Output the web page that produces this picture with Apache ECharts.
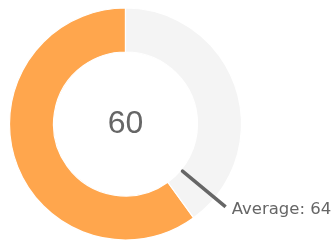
<!DOCTYPE html>
<html>
<head>
<meta charset="utf-8">
<script src="https://cdn.jsdelivr.net/npm/echarts@6/dist/echarts.min.js"></script>
<style>html,body{margin:0;padding:0;background:#fff}#c{width:336px;height:240px}</style>
</head>
<body>
<div id="c"></div>
<script>
var categories = ['Value', 'Remainder'];
var values = [60, 40];
var averageLabel = 'Average';
var averageValue = 64;

var chart = echarts.init(document.getElementById('c'), null, {renderer: 'canvas'});
var cx = 125.5, cy = 124;
chart.setOption({
  animation: false,
  polar: {center: [cx, cy], radius: 130},
  angleAxis: {type: 'value', min: 0, max: 100, startAngle: 90, clockwise: false, show: false},
  radiusAxis: {type: 'value', min: 0, max: 130, show: false},
  series: [
    {
      type: 'pie',
      center: [cx, cy],
      radius: [72, 116],
      startAngle: 90,
      clockwise: false,
      silent: true,
      labelLine: {show: false},
      itemStyle: {borderColor: '#fff', borderWidth: 1.2},
      data: [
        {name: categories[0], value: values[0], itemStyle: {color: '#FFA64D'},
         label: {show: true, position: 'center', formatter: String(values[0]), fontSize: 32, color: '#666', fontFamily: 'Liberation Sans, Arial, sans-serif'}},
        {name: categories[1], value: values[1], itemStyle: {color: '#F4F4F4'}, label: {show: false}}
      ]
    },
    {
      type: 'line',
      coordinateSystem: 'polar',
      silent: true,
      symbol: 'none',
      lineStyle: {color: '#666', width: 3.5, cap: 'round'},
      data: [
        [74, averageValue],
        {value: [130, averageValue], symbol: 'circle', symbolSize: 0.1,
         label: {show: true, position: 'right', distance: 6, formatter: averageLabel + ': ' + averageValue,
                 fontSize: 16.5, color: '#666', fontFamily: 'DejaVu Sans, sans-serif', offset: [0, 3]}}
      ]
    }
  ]
});
</script>
</body>
</html>
